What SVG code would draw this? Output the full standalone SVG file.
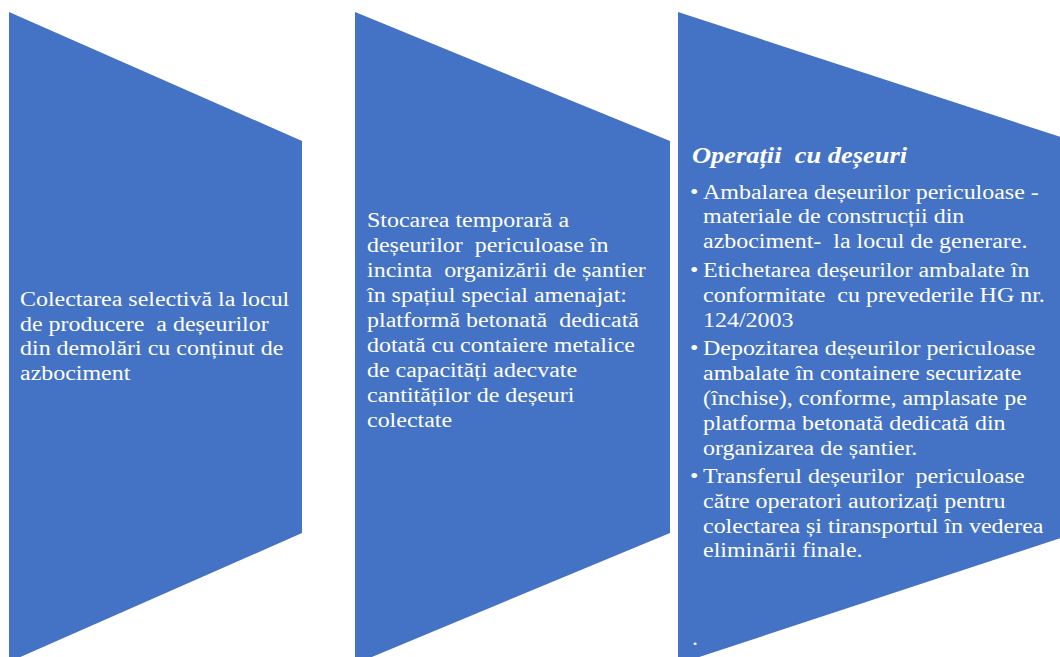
<svg xmlns="http://www.w3.org/2000/svg" width="1060" height="657" viewBox="0 0 1060 657">
  <style>
    .shape { fill: #4472C4; }
    .txt { font-family: "Liberation Serif", "Times New Roman", serif; font-size: 21.3px; fill: #FFFFFF; white-space: pre; }
    .head { font-weight: bold; font-style: italic; font-size: 23.5px; }
  </style>
  <rect width="1060" height="657" fill="#FFFFFF"/>

  <!-- step 1: selective collection -->
  <g id="step-collect">
    <polygon class="shape" points="9,12 302,141 302,533 9,662"/>
    <text class="txt" transform="translate(20,0) scale(1.125,1)" xml:space="preserve">
      <tspan x="0" y="306">Colectarea selectivă la locul</tspan>
      <tspan x="0" y="331">de producere  a deșeurilor</tspan>
      <tspan x="0" y="355.5">din demolări cu conținut de</tspan>
      <tspan x="0" y="380">azbociment</tspan>
    </text>
  </g>

  <!-- step 2: temporary storage -->
  <g id="step-storage">
    <polygon class="shape" points="355,12 670,141 670,533 355,664"/>
    <text class="txt" transform="translate(367,0) scale(1.125,1)" xml:space="preserve">
      <tspan x="0" y="227">Stocarea temporară a</tspan>
      <tspan x="0" y="252">deșeurilor  periculoase în</tspan>
      <tspan x="0" y="277">incinta  organizării de șantier</tspan>
      <tspan x="0" y="302">în spațiul special amenajat:</tspan>
      <tspan x="0" y="327">platformă betonată  dedicată</tspan>
      <tspan x="0" y="352">dotată cu contaiere metalice</tspan>
      <tspan x="0" y="377">de capacități adecvate</tspan>
      <tspan x="0" y="402">cantităților de deșeuri</tspan>
      <tspan x="0" y="427">colectate</tspan>
    </text>
  </g>

  <!-- step 3: waste operations -->
  <g id="step-operations">
    <polygon class="shape" points="678,12 1073,141 1073,534 678,664"/>
    <text class="txt head" transform="translate(692,0) scale(1.125,1)" x="0" y="163" xml:space="preserve">Operații  cu deșeuri</text>
    <g class="txt" transform="translate(690,0) scale(1.125,1)">
      <text x="0" y="199">•</text>
      <text x="0" y="277">•</text>
      <text x="0" y="355">•</text>
      <text x="0" y="483">•</text>
    </g>
    <text class="txt" transform="translate(703,0) scale(1.125,1)" xml:space="preserve">
      <tspan x="0" y="199">Ambalarea deșeurilor periculoase -</tspan>
      <tspan x="0" y="223.5">materiale de construcții din</tspan>
      <tspan x="0" y="248">azbociment-  la locul de generare.</tspan>
      <tspan x="0" y="277">Etichetarea deșeurilor ambalate în</tspan>
      <tspan x="0" y="302">conformitate  cu prevederile HG nr.</tspan>
      <tspan x="0" y="327">124/2003</tspan>
      <tspan x="0" y="355">Depozitarea deșeurilor periculoase</tspan>
      <tspan x="0" y="380">ambalate în containere securizate</tspan>
      <tspan x="0" y="405">(închise), conforme, amplasate pe</tspan>
      <tspan x="0" y="430">platforma betonată dedicată din</tspan>
      <tspan x="0" y="455">organizarea de șantier.</tspan>
      <tspan x="0" y="483">Transferul deșeurilor  periculoase</tspan>
      <tspan x="0" y="508">către operatori autorizați pentru</tspan>
      <tspan x="0" y="533">colectarea și tiransportul în vederea</tspan>
      <tspan x="0" y="557">eliminării finale.</tspan>
    </text>
    <text class="txt" transform="translate(692,0) scale(1.125,1)" x="0" y="645">.</text>
  </g>

  <!-- no connectors: the steps sit side by side -->
  <g id="connectors"/>
</svg>
